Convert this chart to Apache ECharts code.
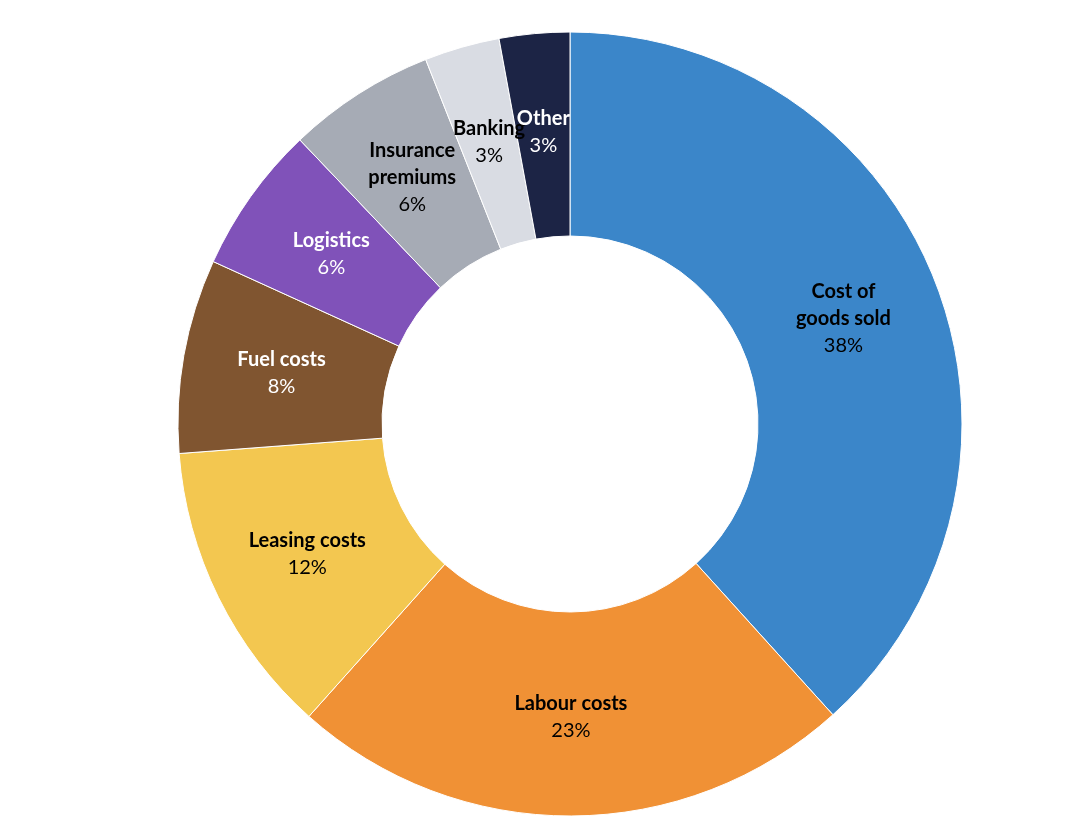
<!DOCTYPE html>
<html>
<head>
<meta charset="utf-8">
<script src="https://cdn.jsdelivr.net/npm/echarts@6/dist/echarts.min.js"></script>
<style>
html,body{margin:0;padding:0;background:#fff;}
#chart{width:1080px;height:834px;}
</style>
</head>
<body>
<div id="chart"></div>
<script>
const categories = ['Cost of\ngoods sold', 'Labour costs', 'Leasing costs', 'Fuel costs', 'Logistics', 'Insurance\npremiums', 'Banking', 'Other'];
const values = [38.3, 23.3, 12.2, 8.0, 6.1, 6.1, 3.1, 2.9];
const percentLabels = ['38%', '23%', '12%', '8%', '6%', '6%', '3%', '3%'];
const colors = ['#3B86C9', '#F09135', '#F3C750', '#805530', '#8052B9', '#A6ABB5', '#D9DCE3', '#1C2445'];
const labelColors = ['#000', '#000', '#000', '#fff', '#fff', '#000', '#000', '#fff'];

const chart = echarts.init(document.getElementById('chart'), null, {renderer: 'canvas'});
chart.setOption({
  animation: false,
  series: [{
    type: 'pie',
    center: [570, 424],
    radius: [188, 392],
    startAngle: 90,
    clockwise: true,
    avoidLabelOverlap: false,
    minShowLabelAngle: 0,
    labelLayout: {hideOverlap: false},
    itemStyle: {borderColor: '#fff', borderWidth: 1},
    label: {
      show: true,
      position: 'inside',
      fontFamily: 'Lato',
      fontSize: 20,
      lineHeight: 27,
      formatter: p => '{n|' + p.name.split('\n').join('}\n{n|') + '}\n{v|' + percentLabels[p.dataIndex] + '}'
    },
    labelLine: {show: false},
    data: categories.map((c, i) => ({
      name: c,
      value: values[i],
      itemStyle: {color: colors[i]},
      label: {
        color: labelColors[i],
        rich: {
          n: {fontFamily: 'Lato', fontWeight: 'bold', fontSize: 20, lineHeight: 27, color: labelColors[i]},
          v: {fontFamily: 'Lato', fontWeight: 'normal', fontSize: 20, lineHeight: 27, color: labelColors[i]}
        }
      }
    }))
  }]
});
</script>
</body>
</html>
